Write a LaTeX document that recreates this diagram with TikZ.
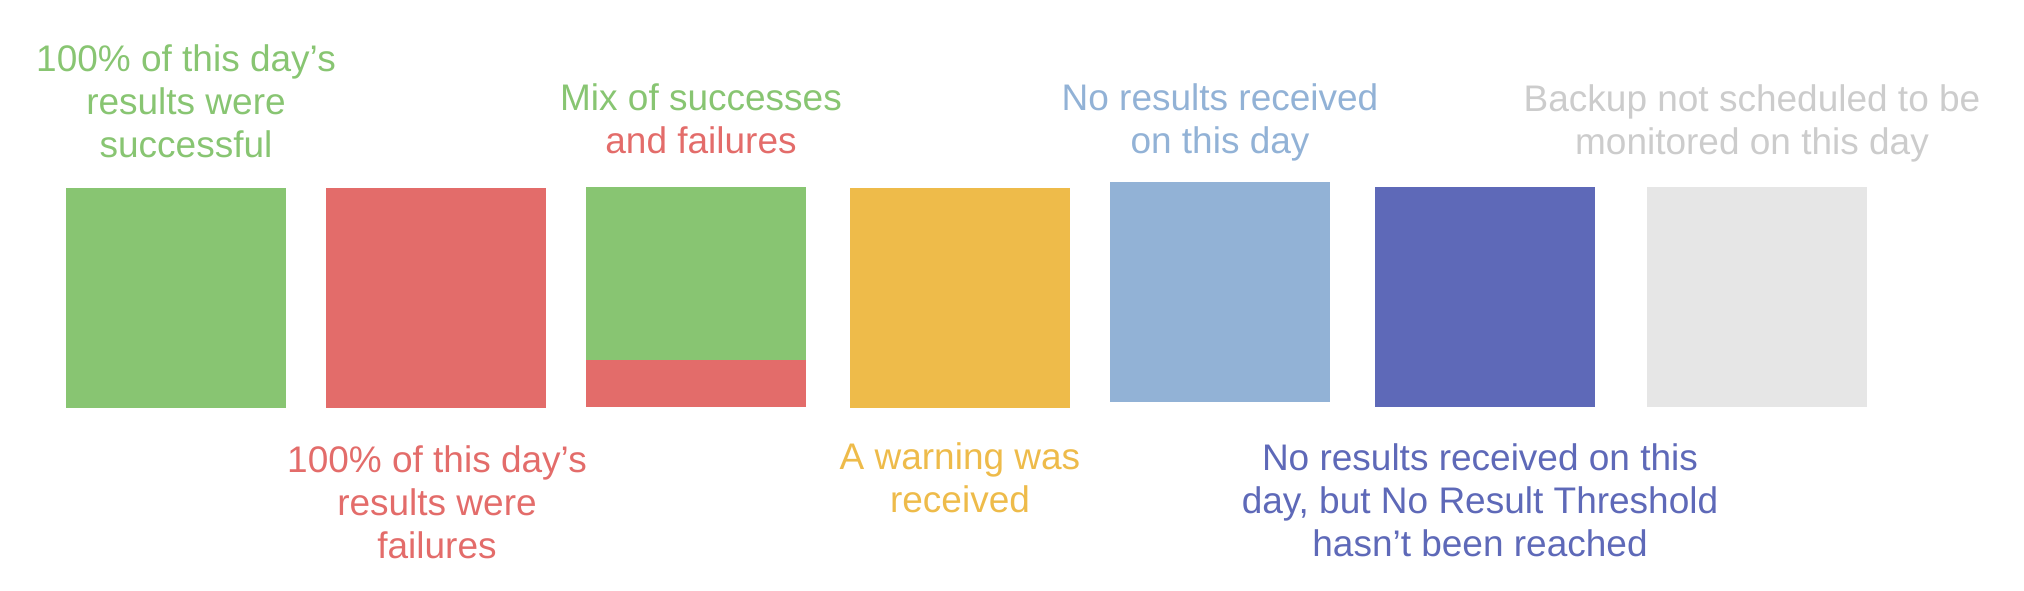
\documentclass[tikz,border=0pt]{standalone}
\usepackage{fontspec}
\setmainfont{Liberation Sans}

\definecolor{okgreen}{HTML}{88C572}
\definecolor{failred}{HTML}{E36C6A}
\definecolor{warnyellow}{HTML}{EEBB4A}
\definecolor{noblue}{HTML}{92B2D6}
\definecolor{pendindigo}{HTML}{5E69B8}
\definecolor{offgrey}{HTML}{E6E6E6}
\definecolor{offtext}{HTML}{CCCCCC}

\tikzset{
    day/.style={rectangle, inner sep=0pt, minimum width=110pt, minimum height=110pt},
    legend/.style={align=center, inner sep=0pt, anchor=base,
        font=\fontsize{18.5pt}{21.5pt}\selectfont}
}

\begin{document}
\begin{tikzpicture}[x=0.5pt,y=-0.5pt]
    \def\redPart{23.5pt}
    \useasboundingbox (0,0) rectangle (2024,590);

    % one square per day state
    \foreach \name/\cx/\cy/\col in {success/176/298/okgreen, failure/436/298/failred,
            mixed/696/297/okgreen, warning/960/298/warnyellow, noresult/1220/292/noblue,
            pending/1485/297/pendindigo, unscheduled/1757/297/offgrey} {
        \node[day, fill=\col] (\name) at (\cx,\cy) {};
    }
    \fill[failred] (mixed.south west) rectangle ([yshift=\redPart]mixed.south east);

    % labels above (placed at the baseline of their last line)
    \node[legend, text=okgreen] (successText) at (186,157) {100\% of this day’s\\results were\\successful};
    \node[legend, text=okgreen] (mixedText) at (701,153) {Mix of successes\\\textcolor{failred}{and failures}};
    \node[legend, text=noblue] (noresultText) at (1220,153) {No results received\\on this day};
    \node[legend, text=offtext] (unscheduledText) at (1752,154) {Backup not scheduled to be\\monitored on this day};

    % labels below
    \node[legend, text=failred] (failureText) at (437,558) {100\% of this day’s\\results were\\failures};
    \node[legend, text=warnyellow] (warningText) at (960,512) {A warning was\\received};
    \node[legend, text=pendindigo] (pendingText) at (1480,556) {No results received on this\\day, but No Result Threshold\\hasn’t been reached};
\end{tikzpicture}
\end{document}
